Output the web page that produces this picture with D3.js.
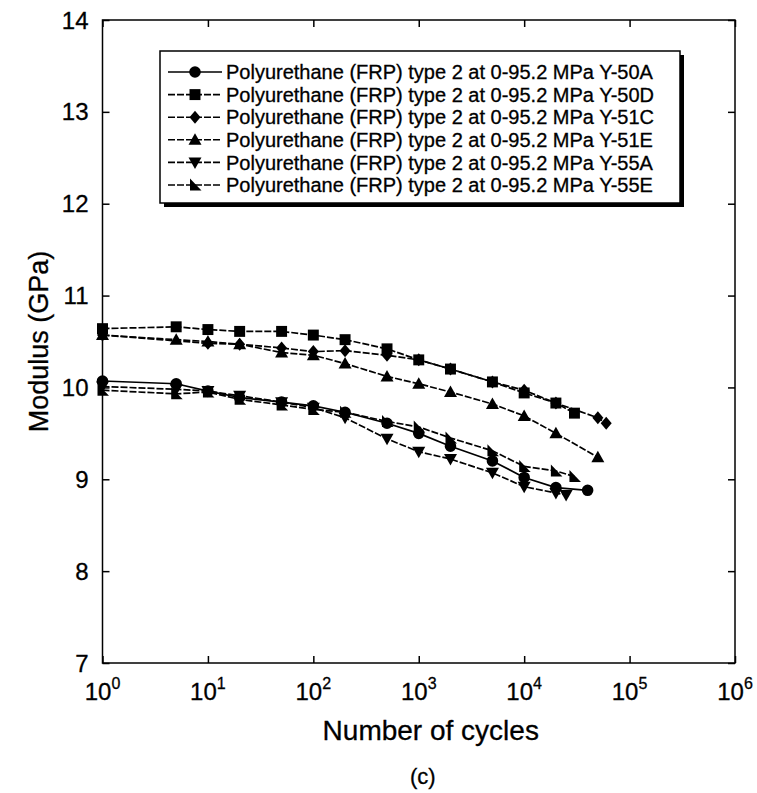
<!DOCTYPE html>
<html>
<head>
<meta charset="utf-8">
<script src="https://cdn.jsdelivr.net/npm/d3@7"></script>
<style>
body { margin: 0; background: #fff; }
text { font-family: "Liberation Sans", Arial, sans-serif; fill: #000; stroke: #000; stroke-width: 0.3px; }
</style>
</head>
<body>
<div id="chart"></div>
<script>
var seriesNames = ["Y-50A", "Y-50D", "Y-51C", "Y-51E", "Y-55A", "Y-55E"];
var legendPrefix = "Polyurethane (FRP) type 2 at 0-95.2 MPa ";

var cyc50A = [1, 5, 10, 20, 50, 100, 200, 500, 1000, 2000, 5000, 10000, 20000, 40000];
var mod50A = [10.07, 10.04, 9.96, 9.89, 9.84, 9.80, 9.73, 9.61, 9.50, 9.36, 9.20, 9.02, 8.91, 8.88];

var cyc50D = [1, 5, 10, 20, 50, 100, 200, 500, 1000, 2000, 5000, 10000, 20000, 30000];
var mod50D = [10.64, 10.66, 10.63, 10.61, 10.61, 10.57, 10.52, 10.42, 10.30, 10.20, 10.06, 9.94, 9.83, 9.72];

var cyc51C = [1, 10, 20, 50, 100, 200, 500, 1000, 2000, 5000, 10000, 20000, 50000, 60000];
var mod51C = [10.57, 10.48, 10.47, 10.43, 10.39, 10.40, 10.35, 10.30, 10.20, 10.06, 9.97, 9.83, 9.67, 9.61];

var cyc51E = [1, 5, 10, 20, 50, 100, 200, 500, 1000, 2000, 5000, 10000, 20000, 50000];
var mod51E = [10.57, 10.52, 10.50, 10.47, 10.38, 10.35, 10.26, 10.12, 10.04, 9.95, 9.82, 9.69, 9.50, 9.24];

var cyc55A = [1, 5, 10, 20, 50, 100, 200, 500, 1000, 2000, 5000, 10000, 20000, 25000];
var mod55A = [10.01, 9.98, 9.96, 9.91, 9.84, 9.78, 9.67, 9.44, 9.30, 9.22, 9.07, 8.92, 8.85, 8.83];

var cyc55E = [1, 5, 10, 20, 50, 100, 200, 500, 1000, 2000, 5000, 10000, 20000, 30000];
var mod55E = [9.97, 9.93, 9.95, 9.87, 9.81, 9.76, 9.73, 9.63, 9.57, 9.45, 9.31, 9.14, 9.09, 9.03];

var xTickExps = [0, 1, 2, 3, 4, 5, 6];
var yTicks = [7, 8, 9, 10, 11, 12, 13, 14];

var series = [
    {name: seriesNames[0], cyc: cyc50A, mod: mod50A, shape: "circle", dash: null},
    {name: seriesNames[1], cyc: cyc50D, mod: mod50D, shape: "square", dash: "7,2"},
    {name: seriesNames[2], cyc: cyc51C, mod: mod51C, shape: "diamond", dash: "7,2"},
    {name: seriesNames[3], cyc: cyc51E, mod: mod51E, shape: "up", dash: "7,2"},
    {name: seriesNames[4], cyc: cyc55A, mod: mod55A, shape: "down", dash: "7,2"},
    {name: seriesNames[5], cyc: cyc55E, mod: mod55E, shape: "corner", dash: "7,2"}
];

var width = 757, height = 793;
var margin = {top: 20, right: 22, bottom: 130, left: 102.5};
var plotW = width - margin.left - margin.right;
var plotH = height - margin.top - margin.bottom;

var x = d3.scaleLog().domain([1, 1e6]).range([0, plotW]);
var y = d3.scaleLinear().domain([7, 14]).range([plotH, 0]);

var svg = d3.select("#chart").append("svg")
    .attr("width", width)
    .attr("height", height);

var g = svg.append("g")
    .attr("transform", "translate(" + margin.left + "," + margin.top + ")");

function markerPath(shape) {
    switch (shape) {
        case "circle": return d3.symbol().type(d3.symbolCircle).size(105)();
        case "square": return d3.symbol().type(d3.symbolSquare).size(120)();
        case "diamond": return "M0,-6.5L5.5,0L0,6.5L-5.5,0Z";
        case "up": return "M0,-6.5L6.5,5L-6.5,5Z";
        case "down": return "M0,6.5L6.5,-5L-6.5,-5Z";
        case "corner": return "M-5,-6.5L6.5,5.5L-5,5.5Z";
    }
}

// frame with inward ticks on all four sides
g.append("rect")
    .attr("width", plotW)
    .attr("height", plotH)
    .attr("fill", "none")
    .attr("stroke", "#000")
    .attr("stroke-width", 1.5);

var xTicks = xTickExps.map(function(e) { return Math.pow(10, e); });

g.append("g").attr("class", "axis axis--x")
    .attr("transform", "translate(0," + plotH + ")")
    .call(d3.axisBottom(x).tickValues(xTicks).tickSizeInner(-7).tickSizeOuter(0).tickFormat(""));
g.append("g").attr("class", "axis axis--x2")
    .call(d3.axisTop(x).tickValues(xTicks).tickSizeInner(-7).tickSizeOuter(0).tickFormat(""));
g.append("g").attr("class", "axis axis--y")
    .call(d3.axisLeft(y).tickValues(yTicks).tickSizeInner(-7).tickSizeOuter(0).tickFormat(""));
g.append("g").attr("class", "axis axis--y2")
    .attr("transform", "translate(" + plotW + ",0)")
    .call(d3.axisRight(y).tickValues(yTicks).tickSizeInner(-7).tickSizeOuter(0).tickFormat(""));

g.selectAll(".axis path").remove();
g.selectAll(".axis line").attr("stroke", "#000").attr("stroke-width", 1.5);

// tick labels
var xLab = g.selectAll(".xLabel")
    .data(xTickExps)
    .enter()
    .append("text")
    .attr("class", "xLabel")
    .attr("x", function(d) { return x(Math.pow(10, d)); })
    .attr("y", plotH + 37)
    .attr("text-anchor", "middle")
    .style("font-size", "24px");
xLab.append("tspan").text("10");
xLab.append("tspan").attr("dy", "-11").style("font-size", "16px").text(function(d) { return d; });

g.selectAll(".yLabel")
    .data(yTicks)
    .enter()
    .append("text")
    .attr("class", "yLabel")
    .attr("x", -14)
    .attr("y", function(d) { return y(d); })
    .attr("dy", "0.36em")
    .attr("text-anchor", "end")
    .style("font-size", "24px")
    .text(function(d) { return d; });

// axis titles
svg.append("text")
    .attr("x", margin.left + x(1e3) + 12)
    .attr("y", 740)
    .attr("text-anchor", "middle")
    .style("font-size", "28px")
    .text("Number of cycles");

svg.append("text")
    .attr("transform", "translate(48," + (margin.top + y(10.5)) + ") rotate(-90)")
    .attr("text-anchor", "middle")
    .style("font-size", "27px")
    .text("Modulus (GPa)");

svg.append("text")
    .attr("x", margin.left + x(1e3) + 4)
    .attr("y", 784)
    .attr("text-anchor", "middle")
    .style("font-size", "22px")
    .text("(c)");

// lines and markers
var line = d3.line()
    .x(function(d) { return x(d[0]); })
    .y(function(d) { return y(d[1]); });

series.forEach(function(s) {
    var pts = s.cyc.map(function(c, i) { return [c, s.mod[i]]; });
    g.append("path")
        .datum(pts)
        .attr("d", line)
        .attr("fill", "none")
        .attr("stroke", "#000")
        .attr("stroke-width", 1.7)
        .attr("stroke-dasharray", s.dash);
    g.selectAll(".pt-" + s.name)
        .data(pts)
        .enter()
        .append("path")
        .attr("class", "pt-" + s.name)
        .attr("transform", function(d) { return "translate(" + x(d[0]) + "," + y(d[1]) + ")"; })
        .attr("d", markerPath(s.shape))
        .attr("fill", "#000");
});

// legend
var legend = svg.append("g").attr("transform", "translate(160,51)");
legend.append("rect")
    .attr("x", 4).attr("y", 4)
    .attr("width", 520).attr("height", 152)
    .attr("fill", "#000");
legend.append("rect")
    .attr("width", 520).attr("height", 152)
    .attr("fill", "#fff")
    .attr("stroke", "#000")
    .attr("stroke-width", 1.5);

var rows = legend.selectAll(".legRow")
    .data(series)
    .enter()
    .append("g")
    .attr("class", "legRow")
    .attr("transform", function(d, i) { return "translate(0," + (21 + i * 22.6) + ")"; });
rows.append("line")
    .attr("x1", 8).attr("x2", 62)
    .attr("stroke", "#000")
    .attr("stroke-width", 1.6)
    .attr("stroke-dasharray", function(d) { return d.dash; });
rows.append("path")
    .attr("transform", "translate(35,0)")
    .attr("d", function(d) { return markerPath(d.shape); })
    .attr("fill", "#000");
rows.append("text")
    .attr("x", 66)
    .attr("dy", "0.36em")
    .style("font-size", "20px")
    .text(function(d) { return legendPrefix + d.name; });
</script>
</body>
</html>
